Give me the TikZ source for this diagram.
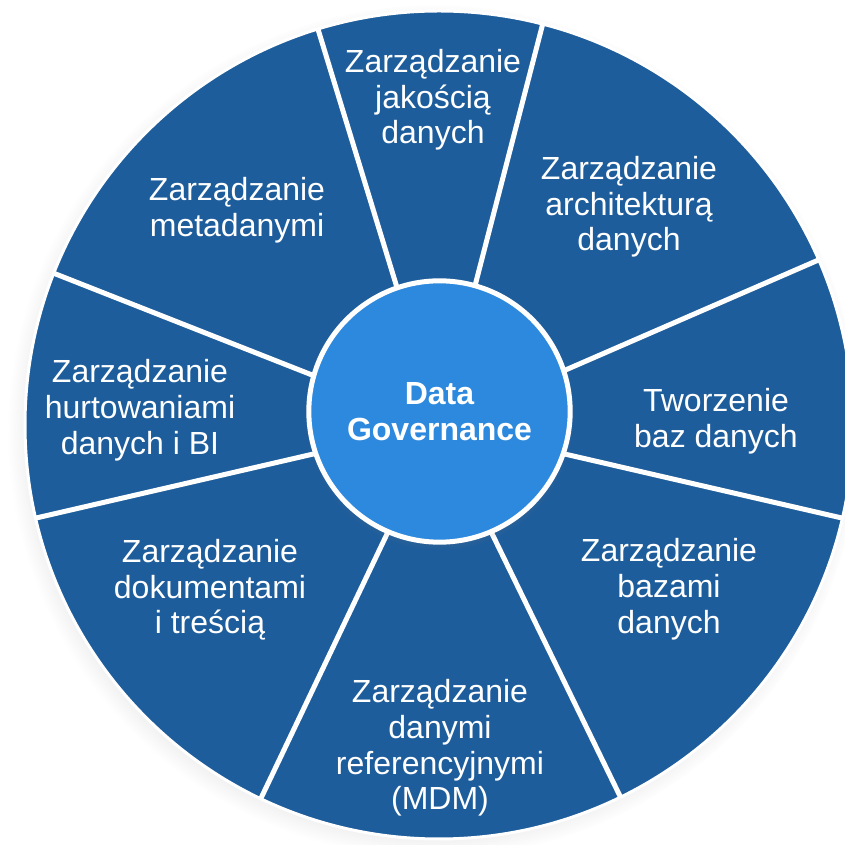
\documentclass[tikz,border=0pt]{standalone}
\usepackage{fontspec}
\setmainfont{Liberation Sans}
\usetikzlibrary{calc}
\usetikzlibrary{shadows}
\definecolor{segblue}{HTML}{1E5D9B}
\definecolor{hubblue}{HTML}{2D89DD}
\newcommand{\wheelfont}{\fontsize{24pt}{26.8pt}\selectfont}

\begin{document}
\begin{tikzpicture}[x=0.75pt, y=0.75pt, every node/.style={font=\wheelfont, text=white, align=center}]
  % wheel styles: text in the segments and the hub in the middle
  \tikzset{segtext/.style={inner sep=0pt},
           hub/.style={circle, draw=white, line width=3.75pt, fill=hubblue, minimum size=196pt, inner sep=0pt, font=\wheelfont\bfseries}}
  \useasboundingbox (0,0) rectangle (844,845);

  % outer disc with its soft shadow
  \coordinate (c) at (439,420);
  \fill[segblue, circular drop shadow={shadow xshift=-3pt, shadow yshift=-4pt, shadow scale=1.03, opacity=0.35}] (c) circle (414);

  % white spokes between the eight segments
  \foreach \a in {107,75.5,23.5,-13,-64,-115.5,-167,158.5}
    \draw[white, line width=3.75pt] (c) -- ($(c)+(\a:414)$);
  \draw[white, line width=2.25pt] (c) circle (414);

  % hub
  \node[hub, circular drop shadow={shadow xshift=0pt, shadow yshift=-3pt, shadow scale=1.03, opacity=0.35}] (dg) at (439.5,433.5) {Data\\Governance};

  % segment texts, clockwise from the top
  \node[segtext] (jakosc) at (433,745) {Zarządzanie\\jakością\\danych};
  \node[segtext] (arch) at (629,638) {Zarządzanie\\architekturą\\danych};
  \node[segtext] (tworz) at (716,424) {Tworzenie\\baz danych};
  \node[segtext] (bazy) at (669,256) {Zarządzanie\\bazami\\danych};
  \node[segtext] (mdm) at (440,97) {Zarządzanie\\danymi\\referencyjnymi\\(MDM)};
  \node[segtext] (dok) at (210,255) {Zarządzanie\\dokumentami\\i treścią};
  \node[segtext] (hurt) at (140,435) {Zarządzanie\\hurtowaniami\\danych i BI};
  \node[segtext] (meta) at (237,635) {Zarządzanie\\metadanymi};
\end{tikzpicture}
\end{document}
